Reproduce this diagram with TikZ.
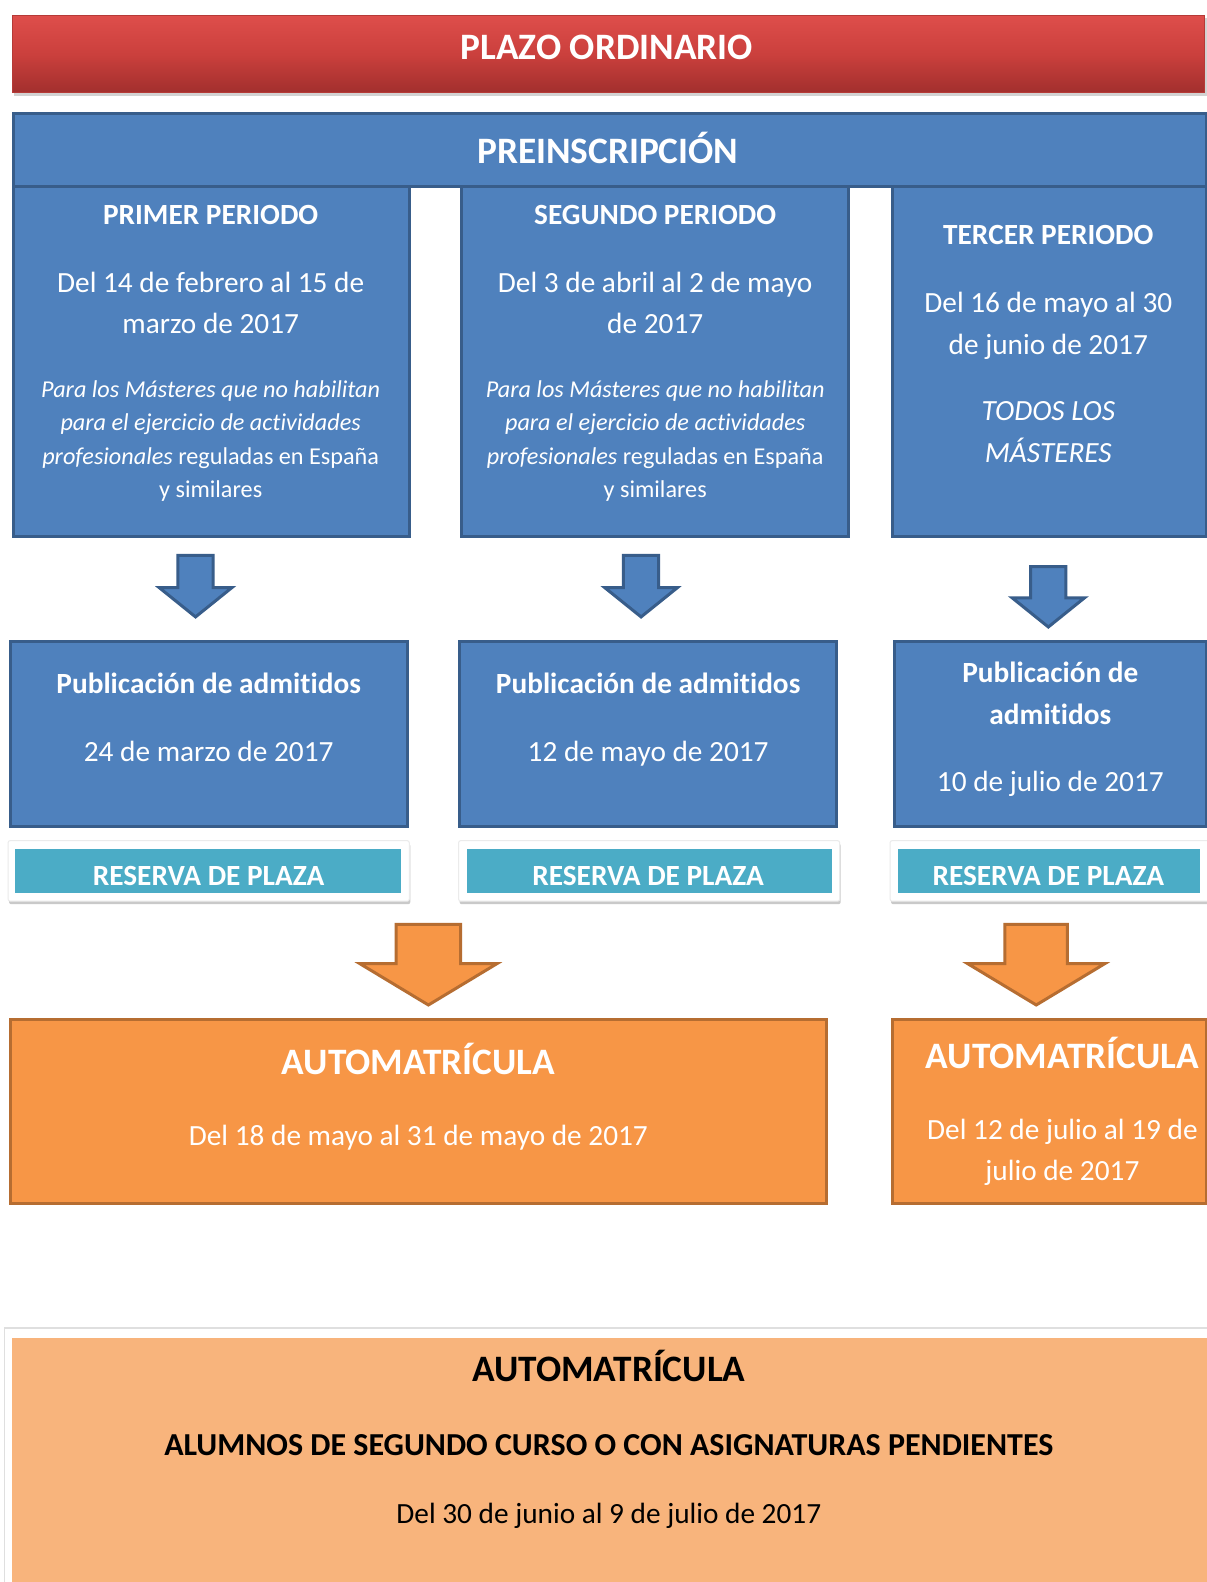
\documentclass[tikz,border=0pt]{standalone}
\usepackage{fontspec}
\setmainfont[Ligatures=NoCommon]{Carlito}
\usetikzlibrary{shadows,fit}
\definecolor{bfill}{HTML}{4F81BD}
\definecolor{bline}{HTML}{385D8A}
\definecolor{tealfill}{HTML}{4BACC6}
\definecolor{ofill}{HTML}{F79646}
\definecolor{oline}{HTML}{B66D31}
\definecolor{lofill}{HTML}{F8B47C}
\definecolor{redtop}{HTML}{DE4E4B}
\definecolor{redmid}{HTML}{CB403D}
\definecolor{redbot}{HTML}{A22F2D}
\definecolor{redline}{HTML}{B53A37}
\tikzset{
  pics/downarrow/.style args={#1/#2/#3/#4}{code={
    \draw[pic actions] (-#1,0) -- (#1,0) -- (#1,#3) -- (#2,#3) -- (0,#3+#4) -- (-#2,#3) -- (-#1,#3) -- cycle;}},
  bluebox/.style={draw=bline, fill=bfill, line width=3pt, inner sep=0pt},
  orangebox/.style={draw=oline, fill=ofill, line width=3pt, inner sep=0pt},
  whiteframe/.style={fill=white, draw=black!8, line width=1pt, inner sep=0pt, rounded corners=2pt,
     drop shadow={shadow xshift=1pt, shadow yshift=-3pt, opacity=0.35, fill=black!60}},
  tealbar/.style={fill=tealfill, inner sep=0pt},
  barrow/.style={draw=bline, fill=bfill, line width=3pt, line join=miter},
  oarrow/.style={draw=oline, fill=ofill, line width=3pt, line join=miter},
  lbl/.style={anchor=base, inner sep=0pt, text=white},
  bodytxt/.style={lbl, font=\fontsize{29.3}{34}\selectfont},
  smalltxt/.style={lbl, font=\fontsize{24.2}{28}\selectfont},
  headtxt/.style={lbl, font=\fontsize{29.3}{34}\selectfont\bfseries},
  titletxt/.style={lbl, font=\fontsize{37.3}{42}\selectfont\bfseries},
}
\begin{document}
\begin{tikzpicture}[x=1.008pt,y=-1.008pt]
\useasboundingbox (0,0) rectangle (1196.43,1569.44);
\fill[white] (0,0) rectangle (1196.43,1569.44);

% red title bar
\node[inner sep=0pt, fit={(12,15)(1195,92)},
  top color=redtop, bottom color=redbot, middle color=redmid, draw=redline, line width=1pt,
  drop shadow={shadow xshift=2pt, shadow yshift=-3pt, opacity=0.35}] (plazo) {};
\node[titletxt] (plazot) at (602,59) {PLAZO ORDINARIO};

% period boxes
\node[bluebox, fit={(13,185)(406,532)}] (per1) {};
\node[bluebox, fit={(458,185)(842,532)}] (per2) {};
\node[bluebox, fit={(885,185)(1197,532)}] (per3) {};
% header
\node[bluebox, fit={(13,113)(1197,185)}] (pre) {};
\node[titletxt] (pret) at (603,162) {PREINSCRIPCIÓN};

% primer periodo text
\node[headtxt] (p1h) at (209,223) {PRIMER PERIODO};
\node[bodytxt] (p1a) at (209,290.5) {Del 14 de febrero al 15 de};
\node[bodytxt] (p1b) at (209,330.5) {marzo de 2017};
\node[smalltxt] (p1c) at (209,394) {\itshape Para los Másteres que no habilitan};
\node[smalltxt] (p1d) at (209,427) {\itshape para el ejercicio de actividades};
\node[smalltxt] (p1e) at (209,461) {\textit{profesionales} reguladas en España};
\node[smalltxt] (p1f) at (209,494) {y similares};

% segundo periodo text
\node[headtxt] (p2h) at (650,223) {SEGUNDO PERIODO};
\node[bodytxt] (p2a) at (650,290.5) {Del 3 de abril al 2 de mayo};
\node[bodytxt] (p2b) at (650,330.5) {de 2017};
\node[smalltxt] (p2c) at (650,394) {\itshape Para los Másteres que no habilitan};
\node[smalltxt] (p2d) at (650,427) {\itshape para el ejercicio de actividades};
\node[smalltxt] (p2e) at (650,461) {\textit{profesionales} reguladas en España};
\node[smalltxt] (p2f) at (650,494) {y similares};

% tercer periodo text
\node[headtxt] (p3h) at (1040,243) {TERCER PERIODO};
\node[bodytxt] (p3a) at (1040,310.5) {Del 16 de mayo al 30};
\node[bodytxt] (p3b) at (1040,351.5) {de junio de 2017};
\node[bodytxt] (p3c) at (1040,417) {\itshape TODOS LOS};
\node[bodytxt] (p3d) at (1040,459) {\itshape MÁSTERES};

% blue arrows
\pic[barrow] (ba1) at (194,551) {downarrow=17.5/36/32/29};
\pic[barrow] (ba2) at (636,551) {downarrow=17.5/36/32/29};
\pic[barrow] (ba3) at (1040,562) {downarrow=17.5/36/31/29};

% publication boxes
\node[bluebox, fit={(10,636)(404,820)}] (pub1) {};
\node[bluebox, fit={(456,636)(830,820)}] (pub2) {};
\node[bluebox, fit={(887,636)(1197,820)}] (pub3) {};
\node[headtxt] (pub1a) at (207,688) {Publicación de admitidos};
\node[bodytxt] (pub1b) at (207,755) {24 de marzo de 2017};
\node[headtxt] (pub2a) at (643,688) {Publicación de admitidos};
\node[bodytxt] (pub2b) at (643,755) {12 de mayo de 2017};
\node[headtxt] (pub3a) at (1042,677) {Publicación de};
\node[headtxt] (pub3b) at (1042,719) {admitidos};
\node[bodytxt] (pub3c) at (1042,785) {10 de julio de 2017};

% reserva de plaza
\node[whiteframe, fit={(8,834)(406,894)}] (rf1) {};
\node[whiteframe, fit={(455,834)(833,894)}] (rf2) {};
\node[whiteframe, fit={(883,834)(1215,894)}] (rf3) {};
\node[tealbar, fit={(15,842)(398,886)}] (rs1) {};
\node[tealbar, fit={(463,842)(825,886)}] (rs2) {};
\node[tealbar, fit={(891,842)(1190,886)}] (rs3) {};
\node[headtxt] (rs1t) at (207,878) {RESERVA DE PLAZA};
\node[headtxt] (rs2t) at (643,878) {RESERVA DE PLAZA};
\node[headtxt] (rs3t) at (1040,878) {RESERVA DE PLAZA};

% orange arrows
\pic[oarrow] (oa1) at (425,917) {downarrow=32/68/39/41};
\pic[oarrow] (oa2) at (1028,917) {downarrow=31/68/39/41};

% automatricula boxes
\node[orangebox, fit={(10,1011)(820,1194)}] (au1) {};
\node[orangebox, fit={(885,1011)(1197,1194)}] (au2) {};
\node[titletxt] (au1a) at (415,1066) {AUTOMATRÍCULA};
\node[bodytxt] (au1b) at (415,1136) {Del 18 de mayo al 31 de mayo de 2017};
\node[titletxt] (au2a) at (1054,1060) {AUTOMATRÍCULA};
\node[bodytxt] (au2b) at (1054,1130) {Del 12 de julio al 19 de};
\node[bodytxt] (au2c) at (1054,1171) {julio de 2017};

% final box
\node[inner sep=0pt, fill=white, fit={(5,1318)(1215,1590)},
  drop shadow={shadow xshift=-1.5pt, shadow yshift=1.5pt, opacity=0.25}] (fin) {};
\node[inner sep=0pt, fill=lofill, fit={(12,1327)(1215,1590)}] (finf) {};
\node[titletxt, text=black] (fina) at (604,1371) {AUTOMATRÍCULA};
\node[lbl, text=black, font=\fontsize{32}{36}\selectfont\bfseries] (finb) at (604,1444) {ALUMNOS DE SEGUNDO CURSO O CON ASIGNATURAS PENDIENTES};
\node[lbl, text=black, font=\fontsize{29.3}{34}\selectfont] (finc) at (604,1511) {Del 30 de junio al 9 de julio de 2017};
\end{tikzpicture}
\end{document}
